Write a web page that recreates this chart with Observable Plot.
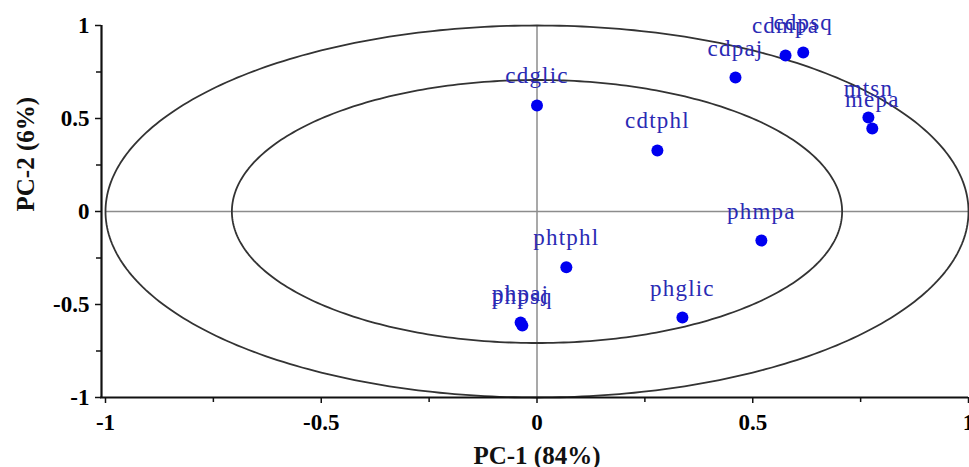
<!DOCTYPE html>
<html>
<head>
<meta charset="utf-8">
<script src="https://cdn.jsdelivr.net/npm/d3@7"></script>
<script src="https://cdn.jsdelivr.net/npm/@observablehq/plot@0.6"></script>
<style>
  html, body { margin: 0; padding: 0; background: #fff; }
  #chart svg { display: block; }
</style>
</head>
<body>
<div id="chart"></div>
<script>
// ---- data ----
const names = ["cdglic","cdtphl","cdpaj","cdmpa","cdpsq","mtsn","mepa","phmpa","phtphl","phglic","phpaj","phpsq"];
const pc1   = [0.000, 0.279, 0.460, 0.576, 0.617, 0.768, 0.777, 0.520, 0.068, 0.337, -0.038, -0.034];
const pc2   = [0.570, 0.328, 0.720, 0.839, 0.855, 0.505, 0.446, -0.156, -0.300, -0.570, -0.597, -0.613];
const majorTicks = [-1, -0.5, 0, 0.5, 1];
const minorTicks = [-0.75, -0.25, 0.25, 0.75];
const circleRadii = [1, Math.SQRT1_2];
const xLabel = "PC-1 (84%)";
const yLabel = "PC-2 (6%)";

const points = names.map((n, i) => ({name: n, x: pc1[i], y: pc2[i]}));
const circles = circleRadii.flatMap(r =>
  d3.range(0, 361).map(a => ({r, x: r * Math.cos(a * Math.PI / 180), y: r * Math.sin(a * Math.PI / 180)}))
);

const serif = "Liberation Serif, Times New Roman, serif";

const chart = Plot.plot({
  width: 969,
  height: 467,
  marginLeft: 105,
  marginRight: 1,
  marginTop: 25,
  marginBottom: 70,
  style: {fontFamily: serif, background: "#fff"},
  x: {domain: [-1, 1]},
  y: {domain: [-1, 1]},
  marks: [
    Plot.ruleY([0], {x1: -1, x2: 1, stroke: "#8c8c8c", strokeWidth: 1.5}),
    Plot.ruleX([0], {y1: -1, y2: 1, stroke: "#8c8c8c", strokeWidth: 1.5}),
    Plot.line(circles, {x: "x", y: "y", z: "r", stroke: "#333", strokeWidth: 1.8}),
    // axis lines
    Plot.ruleY([-1], {stroke: "#111", strokeWidth: 2.2, insetLeft: -5}),
    Plot.ruleX([-1], {stroke: "#111", strokeWidth: 2.2, dx: -4}),
    // x axis
    Plot.axisX({ticks: majorTicks, tickSize: 6, tickPadding: 10, tickFormat: d => String(d),
      fontSize: 23, fontWeight: "bold", label: null, stroke: "#111", strokeWidth: 1.5}),
    Plot.axisX({ticks: minorTicks, tickSize: 5, tickFormat: () => "", label: null, stroke: "#111", strokeWidth: 1.5}),
    // y axis
    Plot.axisY({ticks: majorTicks, tickSize: 6, tickPadding: 6, dx: -4, tickFormat: d => String(d),
      fontSize: 23, fontWeight: "bold", label: null, stroke: "#111", strokeWidth: 1.5}),
    Plot.axisY({ticks: minorTicks, tickSize: 5, dx: -4, tickFormat: () => "", label: null, stroke: "#111", strokeWidth: 1.5}),
    // points + labels
    Plot.dot(points, {x: "x", y: "y", r: 6, fill: "#0000f0", stroke: "none"}),
    Plot.text(points, {x: "x", y: "y", text: "name", dy: -22, lineAnchor: "bottom",
      fontSize: 23, fill: "#2a2ab4", fontFamily: serif}),
    // axis titles
    Plot.text([xLabel], {frameAnchor: "bottom", dy: 66, lineAnchor: "bottom", text: d => d,
      fontSize: 25, fontWeight: "bold", fill: "#111"}),
    Plot.text([yLabel], {frameAnchor: "left", dx: -72, rotate: -90, lineAnchor: "bottom", text: d => d,
      fontSize: 25, fontWeight: "bold", fill: "#111"})
  ]
});

document.getElementById("chart").appendChild(chart);
// stretch point labels horizontally like the reference
d3.select(chart).selectAll("text").filter(function() { return names.includes(this.textContent); })
  .attr("letter-spacing", "1.2");
</script>
</body>
</html>
